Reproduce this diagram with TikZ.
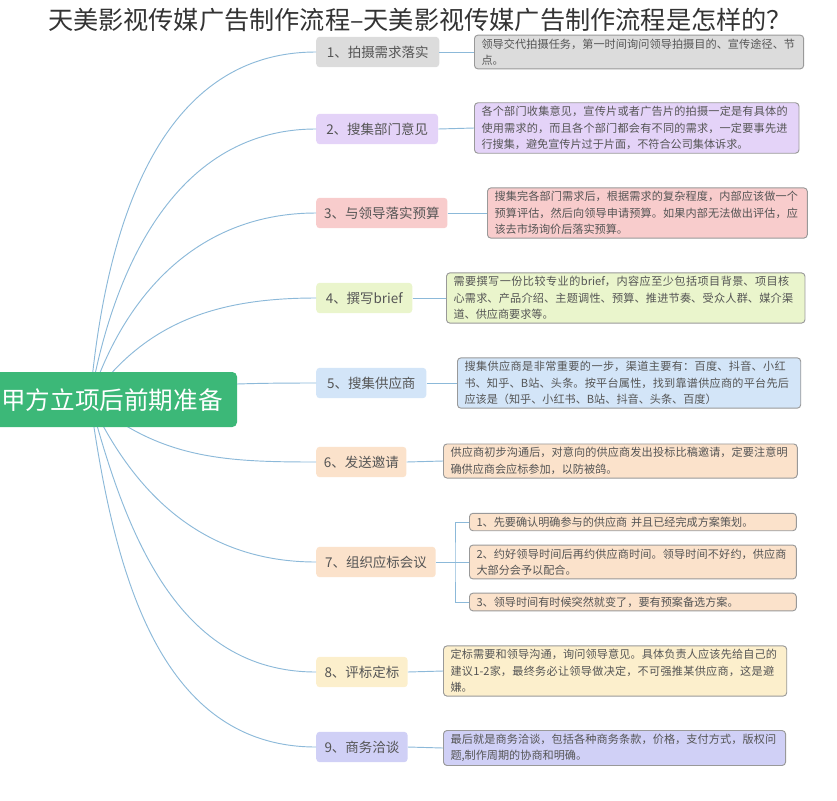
\documentclass[tikz,border=0pt]{standalone}
\usepackage{fontspec}
\setmainfont{Noto Sans CJK SC}
\XeTeXlinebreaklocale "zh"
\XeTeXlinebreakskip=0pt plus 1pt
\usetikzlibrary{positioning}
\definecolor{linkc}{HTML}{5B9BC8}
\definecolor{cgray}{HTML}{DCDCDC}
\definecolor{cpurple}{HTML}{E4D3F8}
\definecolor{cpink}{HTML}{F8CCCC}
\definecolor{cgreen}{HTML}{EAF5CC}
\definecolor{cblue}{HTML}{D3E5F8}
\definecolor{cpeach}{HTML}{FBE2CB}
\definecolor{ccream}{HTML}{FCEFCC}
\definecolor{clav}{HTML}{D0D0F6}
\definecolor{croot}{HTML}{3CB878}
\definecolor{ctext}{HTML}{555555}
\tikzset{
  stepnode/.style={rounded corners=3pt, inner sep=0pt, minimum height=26pt, text=ctext, font=\fontsize{11.5}{13}\selectfont},
  infobox/.style={rounded corners=3pt, draw=gray!80, thick, inner xsep=6pt, inner ysep=3pt, align=left, anchor=west, text=ctext, font=\fontsize{9.5}{14}\selectfont},
  link/.style={draw=linkc!70, thick}
}
\begin{document}
\begin{tikzpicture}[x=0.03cm,y=-0.03cm]
        \useasboundingbox (0,0) rectangle (837,800);

        % title
        \node[font=\fontsize{21.5}{24}\selectfont, text=black!80] (title) at (420,20) {天美影视传媒广告制作流程–天美影视传媒广告制作流程是怎样的？};

        % steps
        \foreach \n/\y/\w/\c/\t in {
            1/52/105pt/cgray/1、拍摄需求落实,
            2/129/104pt/cpurple/2、搜集部门意见,
            3/213/112pt/cpink/3、与领导落实预算,
            4/298/82pt/cgreen/4、撰写brief,
            5/383/94pt/cblue/5、搜集供应商,
            6/462/77pt/cpeach/6、发送邀请,
            7/562/102pt/cpeach/7、组织应标会议,
            8/672/78pt/ccream/8、评标定标,
            9/747/78pt/clav/9、商务洽谈}
                \node[stepnode, fill=\c, minimum width=\w, anchor=west] (s\n) at (316,\y) {\t};

        % connectors from the root
        \coordinate (hub) at (90,400);
        \foreach \n/\o in {1/85,2/80,3/72,4/55,5/10,6/-40,7/-65,8/-75,9/-82}
                \draw[link] (hub) to[out=\o, in=180] (s\n.west);

        % root node, at the left edge
        \fill[croot, rounded corners=4pt] (-10,372) rectangle (237,427);
        \node[text=white, font=\fontsize{21}{24}\selectfont, anchor=west, inner xsep=0pt] (root) at (1,400) {甲方立项后前期准备};

        % details
        \node[infobox, fill=cgray, text width=269pt] (d1) at (474,52) {领导交代拍摄任务，第一时间询问领导拍摄目的、宣传途径、节点。};
        \node[infobox, fill=cpurple, text width=265pt] (d2) at (474,128) {各个部门收集意见，宣传片或者广告片的拍摄一定是有具体的使用需求的，而且各个部门都会有不同的需求，一定要事先进行搜集，避免宣传片过于片面，不符合公司集体诉求。};
        \node[infobox, fill=cpink, text width=261pt] (d3) at (487,213) {搜集完各部门需求后，根据需求的复杂程度，内部应该做一个预算评估，然后向领导申请预算。如果内部无法做出评估，应该去市场询价后落实预算。};
        \node[infobox, fill=cgreen, text width=294pt] (d4) at (446,298) {需要撰写一份比较专业的brief，内容应至少包括项目背景、项目核心需求、产品介绍、主题调性、预算、推进节奏、受众人群、媒介渠道、供应商要求等。};
        \node[infobox, fill=cblue, text width=281pt] (d5) at (457,383) {搜集供应商是非常重要的一步，渠道主要有：百度、抖音、小红书、知乎、B站、头条。按平台属性，找到靠谱供应商的平台先后应该是（知乎、小红书、B站、抖音、头条、百度）};
        \node[infobox, fill=cpeach, text width=290pt] (d6) at (443,461) {供应商初步沟通后，对意向的供应商发出投标比稿邀请，定要注意明确供应商会应标参加，以防被鸽。};
        \node[infobox, fill=cpeach, text width=267pt] (d7a) at (469,522) {1、先要确认明确参与的供应商 并且已经完成方案策划。};
        \node[infobox, fill=cpeach, text width=267pt] (d7b) at (469,562) {2、约好领导时间后再约供应商时间。领导时间不好约，供应商大部分会予以配合。};
        \node[infobox, fill=cpeach, text width=267pt] (d7c) at (469,602) {3、领导时间有时候突然就变了，要有预案备选方案。};
        \node[infobox, fill=ccream, text width=281pt] (d8) at (443,671) {定标需要和领导沟通，询问领导意见。具体负责人应该先给自己的建议1-2家，最终务必让领导做决定，不可强推某供应商，这是避嫌。};
        \node[infobox, fill=clav, text width=280pt] (d9) at (443,748) {最后就是商务洽谈，包括各种商务条款，价格，支付方式，版权问题,制作周期的协商和明确。};

        % step to detail
        \foreach \n in {1,2,3,4,5,6,8,9}
                \draw[link] (s\n.east) -- (d\n.west);
        \coordinate (fork) at (455,562);
        \draw[link] (s7.east) -- (fork);
        \draw[link] (d7a.west) -| (fork) |- (d7c.west);
        \draw[link] (fork) -- (d7b.west);
\end{tikzpicture}
\end{document}
